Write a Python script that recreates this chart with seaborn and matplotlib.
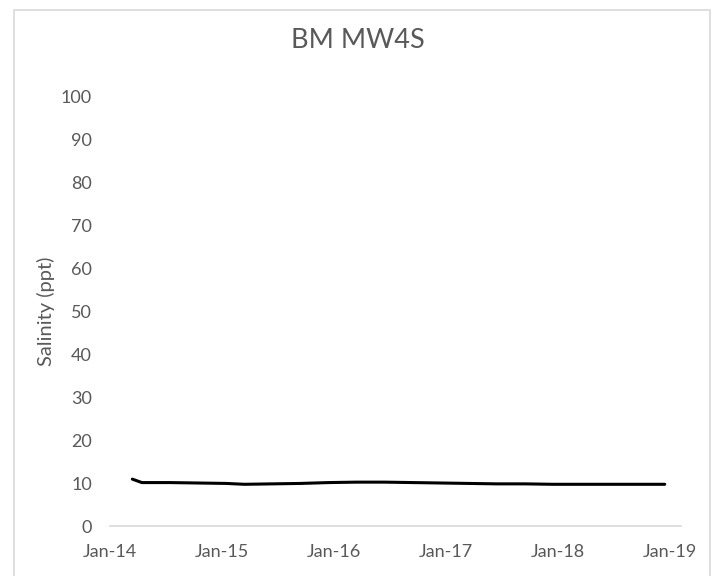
import matplotlib
matplotlib.use("Agg")
import matplotlib.pyplot as plt
from matplotlib.patches import Rectangle
import seaborn as sns
import pandas as pd

dates = ["2014-03-15", "2014-04-15", "2014-07-15", "2014-10-15", "2015-01-15",
         "2015-03-15", "2015-06-15", "2015-09-15", "2015-12-15", "2016-03-15",
         "2016-06-15", "2016-09-15", "2016-12-15", "2017-03-15", "2017-06-15",
         "2017-09-15", "2017-12-15", "2018-03-15", "2018-06-15", "2018-09-15",
         "2018-12-15"]
salinity = [10.9, 10.1, 10.1, 10.0, 9.9,
            9.7, 9.8, 9.9, 10.1, 10.2,
            10.2, 10.1, 10.0, 9.9, 9.8,
            9.8, 9.7, 9.7, 9.7, 9.7,
            9.7]
tick_dates = ["2014-01-01", "2015-01-01", "2016-01-01", "2017-01-01", "2018-01-01", "2019-01-01"]
tick_labels = ["Jan-14", "Jan-15", "Jan-16", "Jan-17", "Jan-18", "Jan-19"]
title = "BM MW4S"
ylabel = "Salinity (ppt)"

df = pd.DataFrame({"date": pd.to_datetime(dates), "salinity": salinity})

sns.set_style("white")
plt.rcParams["font.family"] = ["Lato", "DejaVu Sans"]

fig = plt.figure(figsize=(7.16, 5.76), dpi=100)
ax = fig.add_axes([0.1536, 0.0868, 0.7975, 0.7465])

sns.lineplot(data=df, x="date", y="salinity", ax=ax, color="black", linewidth=2.2)

txt = "#595959"
ax.set_ylim(0, 100)
ax.set_yticks(range(0, 101, 10))
ax.set_xlim(pd.Timestamp("2014-01-01"), pd.Timestamp("2019-02-06"))
ax.set_xticks(pd.to_datetime(tick_dates))
ax.set_xticklabels(tick_labels)
ax.tick_params(axis="x", colors="#d9d9d9", labelcolor=txt, labelsize=13,
               length=6, width=1.2, direction="out", pad=7)
ax.tick_params(axis="y", labelcolor=txt, labelsize=13, length=0, pad=13)
for s in ["top", "right", "left"]:
    ax.spines[s].set_visible(False)
ax.spines["bottom"].set_color("#d9d9d9")
ax.spines["bottom"].set_linewidth(1.2)
ax.set_xlabel("")
ax.set_ylabel(ylabel, color=txt, fontsize=14.5, labelpad=4)
fig.text(0.5, 0.93, title, ha="center", va="center", fontsize=19.5,
         color=txt, fontweight="normal")

fig.patches.append(Rectangle((14 / 716, -0.01), (710 - 14) / 716, 1 - 10 / 576 + 0.01,
                             transform=fig.transFigure, fill=False,
                             edgecolor="#d9d9d9", linewidth=1.2))

fig.savefig("out.png", dpi=100, facecolor="white")
